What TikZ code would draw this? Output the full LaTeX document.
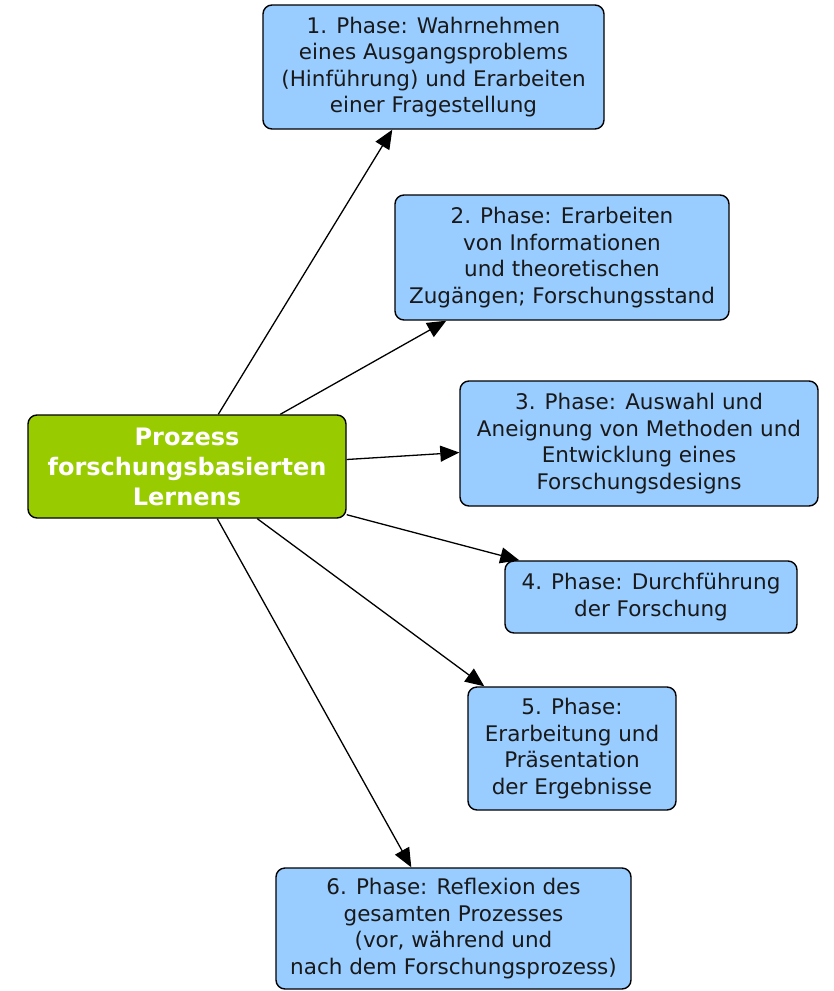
\documentclass[tikz,border=0pt]{standalone}
\usepackage{fontspec}
\setmainfont{DejaVu Sans}
\usetikzlibrary{arrows.meta}
\definecolor{phaseblue}{HTML}{99CCFF}
\definecolor{centergreen}{HTML}{99CC00}
\begin{document}
\begin{tikzpicture}[x=1pt,y=-1pt,
  phase/.style={draw=black, line width=1.4pt, fill=phaseblue, rounded corners=9pt,
    align=center, inner sep=0pt, font=\fontsize{21.5}{26.5}\selectfont, text=black!90},
  center/.style={draw=black, line width=1.4pt, fill=centergreen, rounded corners=9pt,
    align=center, inner sep=0pt, font=\fontsize{24}{30}\selectfont\bfseries, text=white},
  link/.style={line width=1.3pt, -{Triangle[length=19pt,width=16pt]}}]
\useasboundingbox (0,0) rectangle (833,991);
\node[center, minimum width=318pt, minimum height=103pt] (c) at (187,466.5)
  {Prozess\\forschungsbasierten\\Lernens};
\node[phase, minimum width=341pt, minimum height=124pt] (b1) at (433.5,67)
  {1. Phase: Wahrnehmen\\eines Ausgangsproblems\\(Hinführung) und Erarbeiten\\einer Fragestellung};
\node[phase, minimum width=334pt, minimum height=125pt] (b2) at (562,257.5)
  {2. Phase: Erarbeiten\\von Informationen\\und theoretischen\\Zugängen; Forschungsstand};
\node[phase, minimum width=358pt, minimum height=125pt] (b3) at (639,443.5)
  {3. Phase: Auswahl und\\Aneignung von Methoden und\\Entwicklung eines\\Forschungsdesigns};
\node[phase, minimum width=292pt, minimum height=72pt] (b4) at (651,597)
  {4. Phase: Durchführung\\der Forschung};
\node[phase, minimum width=208pt, minimum height=123pt] (b5) at (572,748.5)
  {5. Phase:\\Erarbeitung und\\Präsentation\\der Ergebnisse};
\node[phase, minimum width=355pt, minimum height=121pt] (b6) at (453.5,928.5)
  {6. Phase: Reflexion des\\gesamten Prozesses\\(vor, während und\\nach dem Forschungsprozess)};
\draw[link] ([xshift=191pt]c.north west) -- ([xshift=130pt]b1.south west);
\draw[link] ([xshift=253pt]c.north west) -- ([xshift=52pt]b2.south west);
\draw[link] ([yshift=7pt]c.east) -- ([yshift=-9pt]b3.west);
\draw[link] ([yshift=4pt]c.south east) -- ([xshift=15pt]b4.north west);
\draw[link] ([xshift=230pt]c.south west) -- ([xshift=17pt]b5.north west);
\draw[link] ([xshift=190pt]c.south west) -- ([xshift=136pt]b6.north west);
\end{tikzpicture}
\end{document}
